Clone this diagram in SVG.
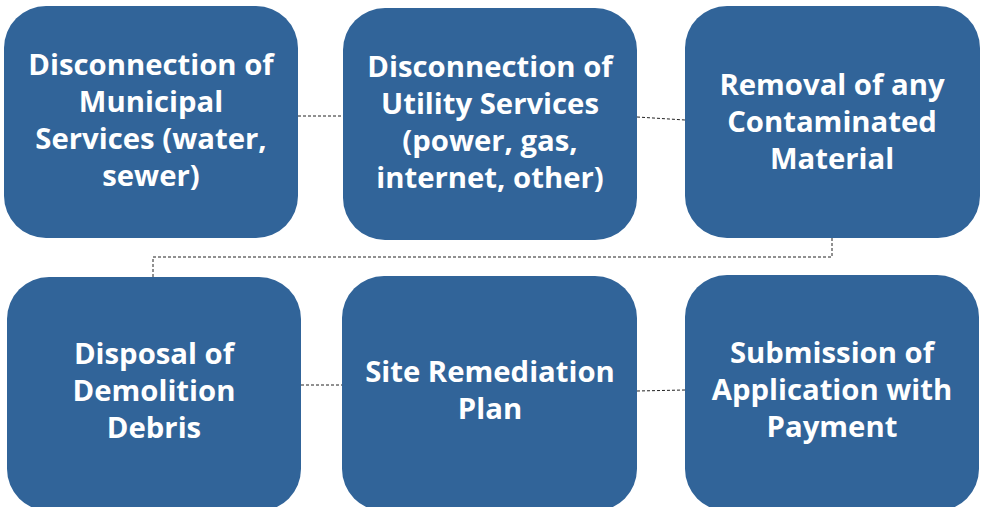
<svg xmlns="http://www.w3.org/2000/svg" width="984" height="507" viewBox="0 0 984 507">
<style>
.box{fill:#316499;}
.t{font-family:"Open Sans","Noto Sans",sans-serif;font-weight:bold;font-size:29.3px;fill:#ffffff;text-anchor:middle;}
.c{fill:none;stroke:#222;stroke-width:1;stroke-dasharray:3 2;}
</style>
<rect width="984" height="507" fill="#ffffff"/>
<g id="connectors">
<line class="c" x1="298" y1="116" x2="343" y2="116"/>
<line class="c" x1="637" y1="117" x2="685" y2="120"/>
<polyline class="c" points="832,238 832,257 153,257 153,277"/>
<line class="c" x1="301" y1="385" x2="342" y2="385"/>
<line class="c" x1="637" y1="391" x2="685" y2="390"/>
</g>
<g id="node1">
<rect class="box" x="4" y="6" width="294" height="232" rx="42"/>
<text class="t" x="151" y="75">Disconnection of</text>
<text class="t" x="151" y="112">Municipal</text>
<text class="t" x="151" y="149">Services (water,</text>
<text class="t" x="151" y="186">sewer)</text>
</g>
<g id="node2">
<rect class="box" x="343" y="8" width="294" height="232" rx="42"/>
<text class="t" x="490" y="77">Disconnection of</text>
<text class="t" x="490" y="114">Utility Services</text>
<text class="t" x="490" y="151">(power, gas,</text>
<text class="t" x="490" y="188">internet, other)</text>
</g>
<g id="node3">
<rect class="box" x="685" y="6" width="295" height="232" rx="42"/>
<text class="t" x="832" y="95">Removal of any</text>
<text class="t" x="832" y="132">Contaminated</text>
<text class="t" x="832" y="169">Material</text>
</g>
<g id="node4">
<rect class="box" x="7" y="277" width="294" height="234" rx="42"/>
<text class="t" x="154" y="364">Disposal of</text>
<text class="t" x="154" y="401">Demolition</text>
<text class="t" x="154" y="438">Debris</text>
</g>
<g id="node5">
<rect class="box" x="342" y="276" width="295" height="235" rx="42"/>
<text class="t" x="490" y="382">Site Remediation</text>
<text class="t" x="490" y="419">Plan</text>
</g>
<g id="node6">
<rect class="box" x="685" y="275" width="294" height="236" rx="42"/>
<text class="t" x="832" y="363">Submission of</text>
<text class="t" x="832" y="400">Application with</text>
<text class="t" x="832" y="437">Payment</text>
</g>
</svg>
